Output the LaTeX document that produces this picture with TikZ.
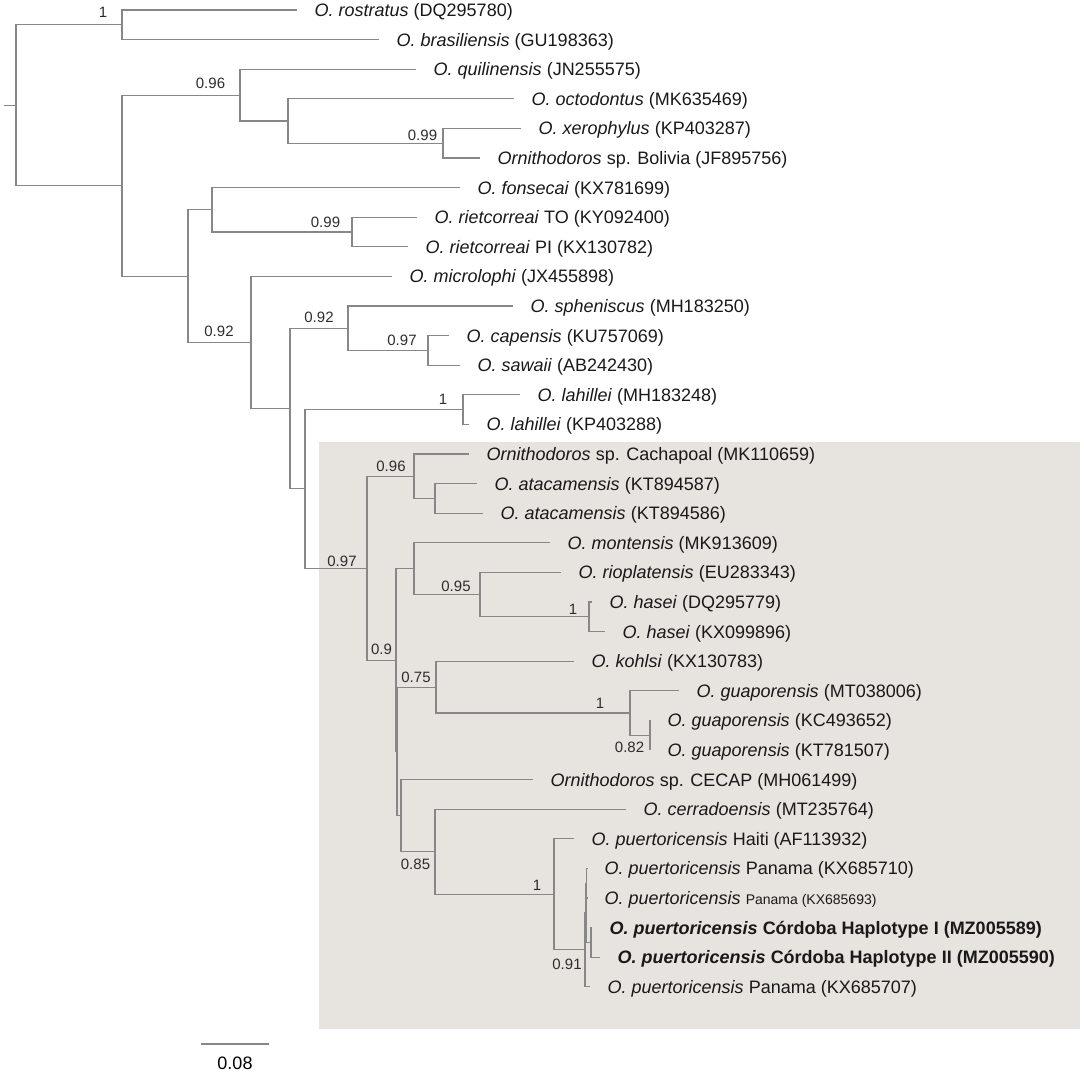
\documentclass[tikz,border=0pt]{standalone}
\usepackage{fontspec}
\setmainfont{Liberation Sans}
\usetikzlibrary{positioning,calc}
\definecolor{cladebg}{RGB}{231,227,222}
\definecolor{branchgray}{RGB}{135,135,135}
\definecolor{labgray}{RGB}{45,45,45}
\tikzstyle{branch} = [draw=branchgray, line width=1.1pt]
\tikzstyle{leaf} = [anchor=base west, inner sep=0pt, xshift=17.5pt, yshift=-6.5pt, font=\fontsize{18}{20}\selectfont, text=black!90]
\tikzstyle{supp} = [inner sep=0pt, font=\fontsize{15}{17}\selectfont, text=labgray]

\begin{document}
\begin{tikzpicture}[x=1pt, y=-1pt]
      \useasboundingbox (0,0) rectangle (1084,1073);
      \fill[cladebg] (319,442) rectangle (1080,1029);
      % leaves, top to bottom
      \foreach \tx/\txt [count=\i from 0] in {%
        297/{\textit{O. rostratus} (DQ295780)},
        379/{\textit{O. brasiliensis} (GU198363)},
        416/{\textit{O. quilinensis} (JN255575)},
        514/{\textit{O. octodontus} (MK635469)},
        521/{\textit{O. xerophylus} (KP403287)},
        480/{\textit{Ornithodoros} sp. Bolivia (JF895756)},
        460/{\textit{O. fonsecai} (KX781699)},
        417/{\textit{O. rietcorreai} TO (KY092400)},
        408/{\textit{O. rietcorreai} PI (KX130782)},
        392/{\textit{O. microlophi} (JX455898)},
        513/{\textit{O. spheniscus} (MH183250)},
        449/{\textit{O. capensis} (KU757069)},
        460/{\textit{O. sawaii} (AB242430)},
        520/{\textit{O. lahillei} (MH183248)},
        469/{\textit{O. lahillei} (KP403288)},
        469/{\textit{Ornithodoros} sp. Cachapoal (MK110659)},
        477/{\textit{O. atacamensis} (KT894587)},
        483/{\textit{O. atacamensis} (KT894586)},
        550/{\textit{O. montensis} (MK913609)},
        561/{\textit{O. rioplatensis} (EU283343)},
        592/{\textit{O. hasei} (DQ295779)},
        605/{\textit{O. hasei} (KX099896)},
        574/{\textit{O. kohlsi} (KX130783)},
        679/{\textit{O. guaporensis} (MT038006)},
        650/{\textit{O. guaporensis} (KC493652)},
        650/{\textit{O. guaporensis} (KT781507)},
        533/{\textit{Ornithodoros} sp. CECAP (MH061499)},
        626/{\textit{O. cerradoensis} (MT235764)},
        574/{\textit{O. puertoricensis} Haiti (AF113932)},
        587/{\textit{O. puertoricensis} Panama (KX685710)},
        587/{\textit{O. puertoricensis} {\fontsize{14}{16}\selectfont Panama (KX685693)}},
        592/{\bfseries\textit{O. puertoricensis} Córdoba Haplotype I (MZ005589)},
        600/{\bfseries\textit{O. puertoricensis} Córdoba Haplotype II (MZ005590)},
        590/{\textit{O. puertoricensis} Panama (KX685707)}%
      }{
        \coordinate (t\i) at (\tx, {10+29.6*\i});
        \node[leaf] (lab\i) at (t\i) {\txt};
      }
      % internal nodes
      \coordinate (base) at (4,105.2);
      \coordinate (root) at (16,105.2);
      \coordinate (A) at (122,24.8);
      \coordinate (B) at (122,185.6);
      \coordinate (C) at (240,95.1);
      \coordinate (D) at (288,121);
      \coordinate (E) at (443,143.2);
      \coordinate (G) at (188,276.1);
      \coordinate (F) at (212,209.8);
      \coordinate (H) at (352,232);
      \coordinate (I) at (251,342.45);
      \coordinate (J) at (290,408.5);
      \coordinate (K) at (348,328.2);
      \coordinate (M) at (428,350.4);
      \coordinate (L) at (305,488.85);
      \coordinate (N) at (463,409.6);
      \coordinate (O) at (367,568.1);
      \coordinate (P) at (414,476.2);
      \coordinate (Q) at (435,498.4);
      \coordinate (R) at (396,660.05);
      \coordinate (S) at (414,568.7);
      \coordinate (W) at (480,594.6);
      \coordinate (X) at (589,616.8);
      \coordinate (R2) at (397,751.4);
      \coordinate (U) at (436,687.1);
      \coordinate (Y) at (630,713);
      \coordinate (Z) at (650,735.2);
      \coordinate (V) at (401,815.7);
      \coordinate (AA) at (435,851.75);
      \coordinate (AB) at (554,894.3);
      \coordinate (AC) at (585,949.8);
      \coordinate (AI) at (586,912.8);
      \coordinate (AJ) at (586.5,883.2);
      \coordinate (AE) at (591,942.4);
      % branches
      \draw[branch] (base) -- (root);
      \draw[branch] (root) |- (A) (root) |- (B);
      \draw[branch] (A) |- (t0) (A) |- (t1);
      \draw[branch] (B) |- (C) (B) |- (G);
      \draw[branch] (C) |- (t2) (C) |- (D);
      \draw[branch] (D) |- (t3) (D) |- (E);
      \draw[branch] (E) |- (t4) (E) |- (t5);
      \draw[branch] (G) |- (F) (G) |- (I);
      \draw[branch] (F) |- (t6) (F) |- (H);
      \draw[branch] (H) |- (t7) (H) |- (t8);
      \draw[branch] (I) |- (t9) (I) |- (J);
      \draw[branch] (J) |- (K) (J) |- (L);
      \draw[branch] (K) |- (t10) (K) |- (M);
      \draw[branch] (M) |- (t11) (M) |- (t12);
      \draw[branch] (L) |- (N) (L) |- (O);
      \draw[branch] (N) |- (t13) (N) |- (t14);
      \draw[branch] (O) |- (P) (O) |- (R);
      \draw[branch] (P) |- (t15) (P) |- (Q);
      \draw[branch] (Q) |- (t16) (Q) |- (t17);
      \draw[branch] (R) |- (S) (R) |- (R2);
      \draw[branch] (S) |- (t18) (S) |- (W);
      \draw[branch] (W) |- (t19) (W) |- (X);
      \draw[branch] (X) |- (t20) (X) |- (t21);
      \draw[branch] (R2) |- (U) (R2) |- (V);
      \draw[branch] (U) |- (t22) (U) |- (Y);
      \draw[branch] (Y) |- (t23) (Y) |- (Z);
      \draw[branch] (Z) |- (t24) (Z) |- (t25);
      \draw[branch] (V) |- (t26) (V) |- (AA);
      \draw[branch] (AA) |- (t27) (AA) |- (AB);
      \draw[branch] (AB) |- (t28) (AB) |- (AC);
      \draw[branch] (AC) |- (AI) (AC) |- (t33);
      \draw[branch] (AI) |- (AJ) (AI) |- (AE);
      \draw[branch] (AJ) |- (t29) (AJ) |- (t30);
      \draw[branch] (AE) |- (t31) (AE) |- (t32);
      % posterior probabilities
      \node[supp] (pA) at (103,12) {1};
      \node[supp] (pC) at (210.5,83) {0.96};
      \node[supp] (pE) at (422.5,135) {0.99};
      \node[supp] (pH) at (325.5,222) {0.99};
      \node[supp] (pI) at (219,331) {0.92};
      \node[supp] (pK) at (319,317) {0.92};
      \node[supp] (pM) at (402,340) {0.97};
      \node[supp] (pN) at (443,399) {1};
      \node[supp] (pP) at (391,466) {0.96};
      \node[supp] (pO) at (342,561) {0.97};
      \node[supp] (pR) at (381.5,649) {0.9};
      \node[supp] (pW) at (456,586) {0.95};
      \node[supp] (pX) at (573,609) {1};
      \node[supp] (pU) at (416,677) {0.75};
      \node[supp] (pY) at (600,703) {1};
      \node[supp] (pZ) at (629.5,747) {0.82};
      \node[supp] (pAA) at (415.5,864) {0.85};
      \node[supp] (pAB) at (537,885) {1};
      \node[supp] (pAC) at (567,964) {0.91};
      % scale bar
      \coordinate (sbl) at (201,1044);
      \coordinate (sbr) at (269,1044);
      \draw[branch] (sbl) -- (sbr);
      \node[font=\fontsize{18}{20}\selectfont, inner sep=0pt] (sbtext) at (235,1063) {0.08};
\end{tikzpicture}
\end{document}
